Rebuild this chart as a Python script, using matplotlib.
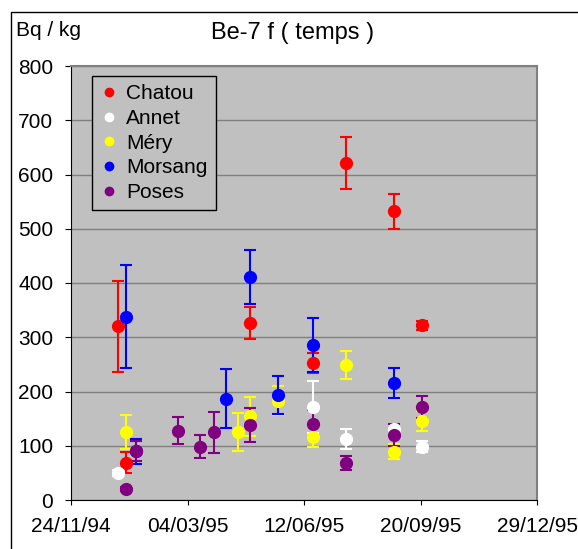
import matplotlib
matplotlib.use("Agg")
import matplotlib.pyplot as plt
import matplotlib.dates as mdates
from matplotlib.patches import Rectangle

# --- data ---
chatou_dates = ["1995-01-03", "1995-01-10", "1995-04-27", "1995-06-20",
                "1995-07-18", "1995-08-28", "1995-09-21"]
chatou_vals = [320, 69, 326, 253, 622, 532, 322]
chatou_err = [84, 19, 30, 18, 48, 32, 8]

annet_dates = ["1995-01-03", "1995-06-20", "1995-07-18", "1995-08-28", "1995-09-21"]
annet_vals = [50, 172, 112, 130, 98]
annet_err = [5, 48, 18, 10, 10]

mery_dates = ["1995-01-10", "1995-04-16", "1995-04-27", "1995-05-21",
              "1995-06-20", "1995-07-18", "1995-08-28", "1995-09-21"]
mery_vals = [125, 125, 154, 183, 117, 249, 89, 146]
mery_err = [31, 35, 36, 27, 20, 26, 14, 18]

morsang_dates = ["1995-01-10", "1995-01-19", "1995-04-06", "1995-04-27",
                 "1995-05-21", "1995-06-20", "1995-08-28"]
morsang_vals = [338, 90, 187, 411, 194, 286, 216]
morsang_err = [95, 23, 55, 50, 35, 50, 28]

poses_dates = ["1995-01-10", "1995-01-19", "1995-02-24", "1995-03-15", "1995-03-27",
               "1995-04-27", "1995-06-20", "1995-07-18", "1995-08-28", "1995-09-21"]
poses_vals = [20, 90, 128, 98, 125, 138, 141, 69, 120, 172]
poses_err = [4, 19, 25, 21, 38, 32, 24, 13, 20, 20]

series = [
    ("Chatou", chatou_dates, chatou_vals, chatou_err, "#ff0000"),
    ("Annet", annet_dates, annet_vals, annet_err, "#ffffff"),
    ("Méry", mery_dates, mery_vals, mery_err, "#ffff00"),
    ("Morsang", morsang_dates, morsang_vals, morsang_err, "#0000ff"),
    ("Poses", poses_dates, poses_vals, poses_err, "#800080"),
]

x_ticks = ["1994-11-24", "1995-03-04", "1995-06-12", "1995-09-20", "1995-12-29"]
x_ticklabels = ["24/11/94", "04/03/95", "12/06/95", "20/09/95", "29/12/95"]
y_ticks = [0, 100, 200, 300, 400, 500, 600, 700, 800]

plt.rcParams['font.family'] = ['Liberation Sans', 'DejaVu Sans']

W, H = 578, 549
fig = plt.figure(figsize=(W / 100, H / 100), dpi=100)
# plot area: x 71..537, y 66..500 (pixels)
ax = fig.add_axes([71 / W, 1 - 500 / H, (537 - 71) / W, (500 - 66) / H])
ax.set_facecolor("#c0c0c0")

# chart area frame
fig.add_artist(Rectangle((11 / W, -0.1), 1.2, 1.1 - 12 / H, transform=fig.transFigure,
                         fill=False, edgecolor="black", lw=1))

for name, d, v, e, col in series:
    dates = mdates.datestr2num(d)
    ax.errorbar(dates, v, yerr=e, fmt="o", color=col, ecolor=col, ms=8.5,
                elinewidth=1.5, capsize=4.5, capthick=1.5, label=name, zorder=3)

ax.set_ylim(0, 800)
ax.set_yticks(y_ticks)
ax.set_xlim(mdates.datestr2num(x_ticks[0]), mdates.datestr2num(x_ticks[-1]))
ax.set_xticks(mdates.datestr2num(x_ticks))
ax.set_xticklabels(x_ticklabels)
ax.grid(axis="y", color="#808080", lw=1)
ax.set_axisbelow(True)
ax.tick_params(labelsize=15, length=4.3, direction="out", pad=8.5)
ax.tick_params(axis="x", length=3.6, pad=9)

for s in ["top", "right"]:
    ax.spines[s].set_color("#808080")
    ax.spines[s].set_linewidth(1.5)
for s in ["left", "bottom"]:
    ax.spines[s].set_color("black")

fig.text(16 / W, 1 - 31 / H, "Bq / kg", fontsize=15, va="center", ha="left")
fig.text(293 / W, 1 - 33 / H, "Be-7 f ( temps )", fontsize=17, va="center", ha="center")

handles = [plt.Line2D([], [], ls="none", marker="o", ms=6, color=c) for _, _, _, _, c in series]
leg = ax.legend(handles, [s[0] for s in series], loc="upper left",
                bbox_to_anchor=((92 - 71) / 466, 1 - (76 - 66) / 434),
                frameon=True, fancybox=False, framealpha=1, facecolor="#c0c0c0",
                edgecolor="black", fontsize=15, handlelength=0.8, handletextpad=0.45,
                labelspacing=0.27, borderpad=0.4, borderaxespad=0)
leg.get_frame().set_linewidth(1)

fig.savefig("out.png", dpi=100)
